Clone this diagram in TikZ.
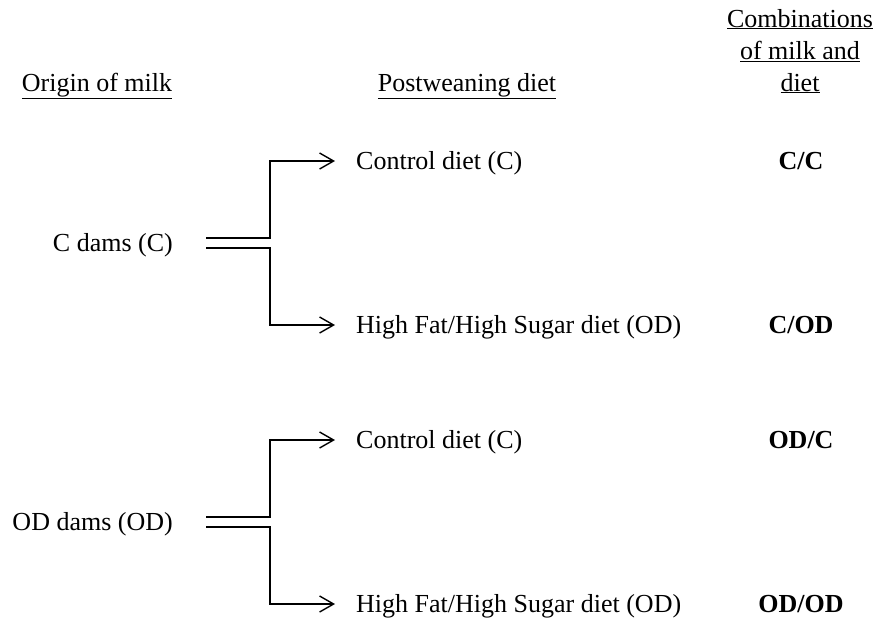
\documentclass[tikz,border=0pt]{standalone}
\usepackage{fontspec}
\setmainfont{Liberation Serif}
\usetikzlibrary{arrows.meta}
\begin{document}
\begin{tikzpicture}[x=1pt,y=-1pt,
  lbl/.style={inner sep=0pt, font=\fontsize{26}{32.5}\selectfont},
  combo/.style={inner sep=0pt, font=\fontsize{26}{32.5}\selectfont\bfseries},
  branch/.style={line width=1.4pt, -{Straight Barb[length=14pt,width=16pt,line width=1.4pt]}},
  bar/.style={line width=1.4pt}]
\useasboundingbox (0,0) rectangle (877,624);
% headings
\node[lbl, anchor=base] (h1) at (97,91) {\underline{Origin of milk}};
\node[lbl, anchor=base] (h2) at (467,91) {\underline{Postweaning diet}};
\node[lbl, anchor=base] (h3a) at (800,27) {\underline{Combinations}};
\node[lbl, anchor=base] (h3b) at (800,59.5) {\underline{of milk and}};
\node[lbl, anchor=base] (h3c) at (800,91) {\underline{diet}};
% sources
\node[lbl, anchor=base east] (m1) at (173,251.6) {C dams (C)};
\node[lbl, anchor=base east] (m2) at (173,530.6) {OD dams (OD)};
% junction coordinates
\coordinate (s1a) at (206,238); \coordinate (s1b) at (206,248);
\coordinate (j1a) at (270,238); \coordinate (j1b) at (270,248);
\coordinate (t1a) at (335,161); \coordinate (t1b) at (335,325);
\coordinate (s2a) at (206,517); \coordinate (s2b) at (206,527);
\coordinate (j2a) at (270,517); \coordinate (j2b) at (270,527);
\coordinate (t2a) at (335,440); \coordinate (t2b) at (335,604);
% diets
\node[lbl, anchor=base west] (d1) at (356,169.6) {Control diet (C)};
\node[lbl, anchor=base west] (d2) at (356,333.6) {High Fat/High Sugar diet (OD)};
\node[lbl, anchor=base west] (d3) at (356,448.6) {Control diet (C)};
\node[lbl, anchor=base west] (d4) at (356,612.6) {High Fat/High Sugar diet (OD)};
% combinations
\node[combo, anchor=base] (c1) at (801,169.6) {C/C};
\node[combo, anchor=base] (c2) at (801,333.6) {C/OD};
\node[combo, anchor=base] (c3) at (801,448.6) {OD/C};
\node[combo, anchor=base] (c4) at (801,612.6) {OD/OD};
% connectors
\draw[branch] (s1a) -- (j1a) |- (t1a);
\draw[branch] (s1b) -- (j1b) |- (t1b);
\draw[branch] (s2a) -- (j2a) |- (t2a);
\draw[branch] (s2b) -- (j2b) |- (t2b);
\end{tikzpicture}
\end{document}
